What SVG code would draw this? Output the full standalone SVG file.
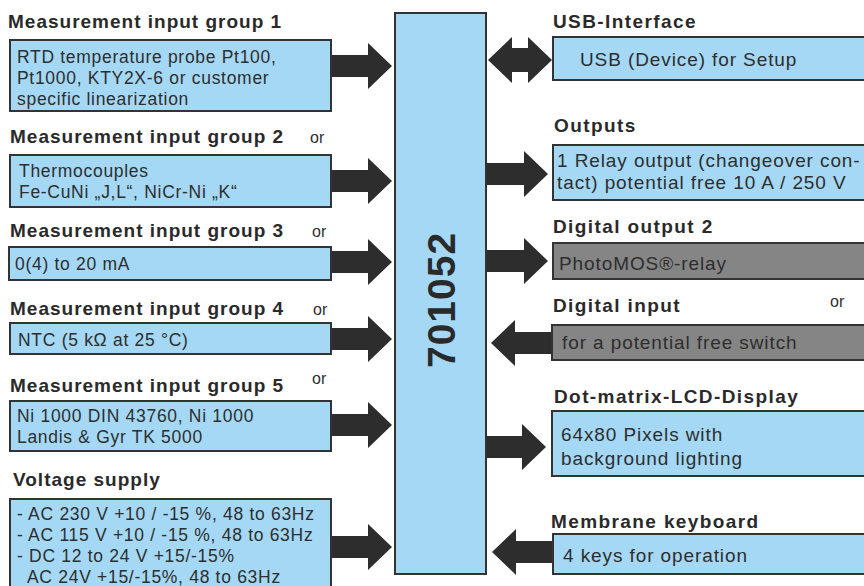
<svg xmlns="http://www.w3.org/2000/svg" width="864" height="586" viewBox="0 0 864 586">
<style>
.bx{fill:#a4d8f5;stroke:#333;stroke-width:2}
.gy{fill:#858585;stroke:#333;stroke-width:2}
.ar{fill:#2d2d2d}
.h{font-family:"Liberation Sans",Arial,sans-serif;font-weight:bold;font-size:19px;fill:#2a2a2a;letter-spacing:1px}
.h2{font-family:"Liberation Sans",Arial,sans-serif;font-weight:bold;font-size:19px;fill:#2a2a2a;letter-spacing:1.4px}
.t{font-family:"Liberation Sans",Arial,sans-serif;font-size:17.5px;fill:#2e2e2e;letter-spacing:0.7px}
.t2{font-family:"Liberation Sans",Arial,sans-serif;font-size:19px;fill:#2e2e2e;letter-spacing:0.9px}
.or{font-family:"Liberation Sans",Arial,sans-serif;font-size:16px;fill:#2e2e2e}
.big{font-family:"Liberation Sans",Arial,sans-serif;font-weight:bold;font-size:39px;fill:#2a2a2a;letter-spacing:1px}
</style>
<rect width="864" height="586" fill="#fff"/>
<g id="connectors">
<polygon class="ar" points="331,55 368,55 368,43 392,66 368,89 368,77 331,77"/>
<polygon class="ar" points="331,170 368,170 368,158 392,181 368,204 368,192 331,192"/>
<polygon class="ar" points="331,251 368,251 368,239 392,262 368,285 368,273 331,273"/>
<polygon class="ar" points="331,328 368,328 368,316 392,339 368,362 368,350 331,350"/>
<polygon class="ar" points="331,414 368,414 368,402 392,425 368,448 368,436 331,436"/>
<polygon class="ar" points="331,536 368,536 368,524 392,547 368,570 368,558 331,558"/>
<polygon class="ar" points="488,60 512,37 512,48 528,48 528,37 552,60 528,83 528,72 512,72 512,83"/>
<polygon class="ar" points="487,163 524,163 524,151 548,174 524,197 524,185 487,185"/>
<polygon class="ar" points="487,250 524,250 524,238 548,261 524,284 524,272 487,272"/>
<polygon class="ar" points="552,332 515,332 515,320 491,343 515,366 515,354 552,354"/>
<polygon class="ar" points="487,436 522,436 522,424 546,447 522,470 522,458 487,458"/>
<polygon class="ar" points="553,541 516,541 516,529 492,552 516,575 516,563 553,563"/>
</g>
<g id="main">
<rect class="bx" x="395" y="13" width="91" height="561"/>
<text class="big" transform="translate(455,300) rotate(-90)" text-anchor="middle">701052</text>
</g>
<g id="in1">
<text class="h" x="8" y="28">Measurement input group 1</text>
<rect class="bx" x="10" y="40" width="321" height="71"/>
<text class="t" x="17" y="63">RTD temperature probe Pt100,</text>
<text class="t" x="17" y="84">Pt1000, KTY2X-6 or customer</text>
<text class="t" x="17" y="105">specific linearization</text>
</g>
<g id="in2">
<text class="h" x="10" y="143">Measurement input group 2</text>
<text class="or" x="310" y="143">or</text>
<rect class="bx" x="10" y="155" width="321" height="52"/>
<text class="t" x="19" y="177">Thermocouples</text>
<text class="t" x="19" y="198">Fe-CuNi „J,L“, NiCr-Ni „K“</text>
</g>
<g id="in3">
<text class="h" x="10" y="237">Measurement input group 3</text>
<text class="or" x="312" y="237">or</text>
<rect class="bx" x="9" y="247" width="322" height="33"/>
<text class="t" x="15" y="270">0(4) to 20 mA</text>
</g>
<g id="in4">
<text class="h" x="10" y="315">Measurement input group 4</text>
<text class="or" x="313" y="315">or</text>
<rect class="bx" x="10" y="323" width="321" height="31"/>
<text class="t" x="18" y="346">NTC (5 kΩ at 25 °C)</text>
</g>
<g id="in5">
<text class="h" x="10" y="392">Measurement input group 5</text>
<text class="or" x="312" y="384">or</text>
<rect class="bx" x="10" y="401" width="321" height="50"/>
<text class="t" x="17" y="422">Ni 1000 DIN 43760, Ni 1000</text>
<text class="t" x="17" y="443">Landis &amp; Gyr TK 5000</text>
</g>
<g id="supply">
<text class="h" x="13" y="486">Voltage supply</text>
<rect class="bx" x="10" y="499" width="321" height="95"/>
<text class="t" x="17" y="520">- AC 230 V +10 / -15 %, 48 to 63Hz</text>
<text class="t" x="17" y="541">- AC 115 V +10 / -15 %, 48 to 63Hz</text>
<text class="t" x="17" y="562">- DC 12 to 24 V +15/-15%</text>
<text class="t" x="27" y="583">AC 24V +15/-15%, 48 to 63Hz</text>
</g>
<g id="usb">
<text class="h2" x="553" y="28">USB-Interface</text>
<rect class="bx" x="553" y="37" width="320" height="43"/>
<text class="t2" x="580" y="66">USB (Device) for Setup</text>
</g>
<g id="outputs">
<text class="h2" x="554" y="132">Outputs</text>
<rect class="bx" x="553" y="145" width="320" height="55"/>
<text class="t2" x="557" y="167">1 Relay output (changeover con-</text>
<text class="t2" x="557" y="189">tact) potential free 10 A / 250 V</text>
</g>
<g id="dout2">
<text class="h2" x="553" y="233">Digital output 2</text>
<rect class="gy" x="553" y="243" width="320" height="36"/>
<text class="t2" x="559" y="270">PhotoMOS®-relay</text>
</g>
<g id="din">
<text class="h2" x="553" y="312">Digital input</text>
<text class="or" x="830" y="307">or</text>
<rect class="gy" x="552" y="325" width="321" height="35"/>
<text class="t2" x="562" y="349">for a potential free switch</text>
</g>
<g id="lcd">
<text class="h2" x="554" y="403">Dot-matrix-LCD-Display</text>
<rect class="bx" x="552" y="411" width="321" height="65"/>
<text class="t2" x="561" y="441">64x80 Pixels with</text>
<text class="t2" x="561" y="465">background lighting</text>
</g>
<g id="keys">
<text class="h2" x="551" y="528">Membrane keyboard</text>
<rect class="bx" x="553" y="534" width="320" height="40"/>
<text class="t2" x="563" y="562">4 keys for operation</text>
</g>
</svg>
